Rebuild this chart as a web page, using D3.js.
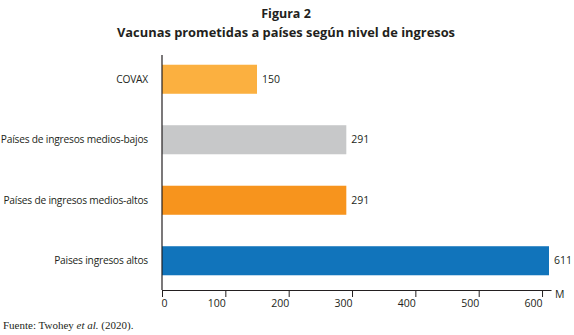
<!DOCTYPE html>
<html>
<head>
<meta charset="utf-8">
<script src="https://cdn.jsdelivr.net/npm/d3@7"></script>
<style>
  html, body { margin: 0; padding: 0; background: #fff; }
  svg { display: block; }
  text { fill: #231f20; }
</style>
</head>
<body>
<svg id="chart" width="574" height="335"></svg>
<script>
// Vacunas prometidas (millones de dosis) por grupo de países
const categories = [
  "COVAX",
  "Países de ingresos medios-bajos",
  "Países de ingresos medios-altos",
  "Paises ingresos altos"
];
const values = [150, 291, 291, 611];
const colors = ["#fbb040", "#c7c8c9", "#f7941d", "#1174bb"];
const tickValues = [0, 100, 200, 300, 400, 500, 600];

const sans = "'Open Sans', 'Noto Sans', sans-serif";
const svg = d3.select("#chart");

const x = d3.scaleLinear().domain([0, 611]).range([162, 549]);
const y = d3.scaleBand().domain(categories).range([49, 291]).paddingInner(0.52).paddingOuter(0.26);

// Títulos
svg.append("text")
  .attr("x", 286).attr("y", 18)
  .attr("text-anchor", "middle")
  .style("font-family", sans).style("font-weight", 700).style("font-size", "12.5px")
  .text("Figura 2");
svg.append("text")
  .attr("x", 286).attr("y", 37)
  .attr("text-anchor", "middle")
  .attr("textLength", 338).attr("lengthAdjust", "spacingAndGlyphs")
  .style("font-family", sans).style("font-weight", 700).style("font-size", "12.5px")
  .text("Vacunas prometidas a países según nivel de ingresos");

// Barras
svg.append("g").selectAll("rect")
  .data(categories)
  .join("rect")
  .attr("x", x(0))
  .attr("y", d => y(d))
  .attr("width", (d, i) => x(values[i]) - x(0))
  .attr("height", y.bandwidth())
  .attr("fill", (d, i) => colors[i]);

// Valores al final de cada barra
svg.append("g").selectAll("text")
  .data(categories)
  .join("text")
  .attr("x", (d, i) => x(values[i]) + 5)
  .attr("y", d => y(d) + y.bandwidth() / 2)
  .attr("dy", "0.35em")
  .style("font-family", sans).style("font-size", "10.5px")
  .text((d, i) => values[i]);

// Etiquetas de categoría
svg.append("g").selectAll("text")
  .data(categories)
  .join("text")
  .attr("x", 148)
  .attr("y", d => y(d) + y.bandwidth() / 2)
  .attr("dy", "0.35em")
  .attr("text-anchor", "end")
  .style("font-family", sans).style("font-size", "10.2px")
  .style("letter-spacing", "-0.2px")
  .text(d => d);

// Eje vertical
svg.append("line")
  .attr("x1", x(0)).attr("x2", x(0))
  .attr("y1", 55).attr("y2", 290)
  .attr("stroke", "#231f20").attr("stroke-width", 1.2);

// Eje horizontal
const xAxis = svg.append("g")
  .attr("transform", "translate(0,290)")
  .call(d3.axisBottom(x).tickValues(tickValues).tickSize(7).tickSizeOuter(0).tickFormat(d3.format("d")));
xAxis.select(".domain")
  .attr("d", `M${x(0)},0.5H${x(615)}`)
  .attr("stroke", "#231f20").attr("stroke-width", 1.2);
xAxis.selectAll(".tick line").attr("stroke", "#231f20").attr("stroke-width", 1);
xAxis.selectAll(".tick text")
  .attr("y", 10)
  .attr("text-anchor", d => d === 0 ? "start" : "end")
  .attr("dx", d => d === 0 ? -1 : 0)
  .style("font-family", sans).style("font-size", "10.5px").style("fill", "#231f20");

svg.append("text")
  .attr("x", 555).attr("y", 298)
  .style("font-family", sans).style("font-size", "10.5px")
  .text("M");

// Fuente
const src = svg.append("text")
  .attr("x", 3).attr("y", 329)
  .style("font-family", "'Liberation Serif', 'Times New Roman', serif").style("font-size", "11px");
src.append("tspan").text("Fuente: Twohey ");
src.append("tspan").style("font-style", "italic").text("et al.");
src.append("tspan").text(" (2020).");
</script>
</body>
</html>
